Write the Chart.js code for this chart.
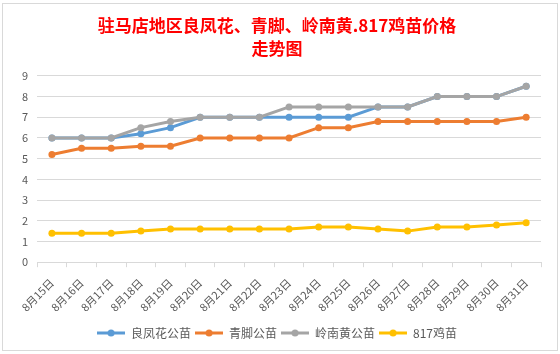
<!DOCTYPE html>
<html>
<head>
<meta charset="utf-8">
<script src="https://cdn.jsdelivr.net/npm/chart.js@4"></script>
<style>
  html, body { margin: 0; padding: 0; background: #fff; }
  #frame { position: absolute; left: 2px; top: 3px; width: 554px; height: 346px; border: 1px solid #d9d9d9; background: #fff; }
  #c { position: absolute; left: 0; top: 0; }
</style>
</head>
<body>
<div id="frame"></div>
<canvas id="c" width="560" height="354"></canvas>
<script>
const labels = ['8月15日','8月16日','8月17日','8月18日','8月19日','8月20日','8月21日','8月22日','8月23日','8月24日','8月25日','8月26日','8月27日','8月28日','8月29日','8月30日','8月31日'];
const liangFengHua = [6, 6, 6, 6.2, 6.5, 7, 7, 7, 7, 7, 7, 7.5, 7.5, 8, 8, 8, 8.5];
const qingJiao     = [5.2, 5.5, 5.5, 5.6, 5.6, 6, 6, 6, 6, 6.5, 6.5, 6.8, 6.8, 6.8, 6.8, 6.8, 7];
const lingNanHuang = [6, 6, 6, 6.5, 6.8, 7, 7, 7, 7.5, 7.5, 7.5, 7.5, 7.5, 8, 8, 8, 8.5];
const ji817        = [1.4, 1.4, 1.4, 1.5, 1.6, 1.6, 1.6, 1.6, 1.6, 1.7, 1.7, 1.6, 1.5, 1.7, 1.7, 1.8, 1.9];

const txt = '#595959';
const font = "'Microsoft YaHei', 'Noto Sans CJK SC', sans-serif";

// legend icon: short line with a dot, like Excel
function legendIcon(color) {
    const cv = document.createElement('canvas');
    cv.width = 28; cv.height = 10;
    const g = cv.getContext('2d');
    g.strokeStyle = color; g.lineWidth = 3;
    g.beginPath(); g.moveTo(0, 5); g.lineTo(28, 5); g.stroke();
    g.fillStyle = color;
    g.beginPath(); g.arc(14, 5, 3.5, 0, Math.PI * 2); g.fill();
    return cv;
}

function series(label, data, color, order) {
    return {
        label, data, order,
        borderColor: color,
        backgroundColor: color,
        borderWidth: 3,
        pointRadius: 3.5,
        pointHoverRadius: 3.5,
        pointBorderWidth: 0,
        tension: 0
    };
}

new Chart(document.getElementById('c'), {
    type: 'line',
    data: {
        labels: labels,
        datasets: [
            series('良凤花公苗', liangFengHua, '#5B9BD5', 4),
            series('青脚公苗', qingJiao, '#ED7D31', 3),
            series('岭南黄公苗', lingNanHuang, '#A5A5A5', 2),
            series('817鸡苗', ji817, '#FFC000', 1)
        ]
    },
    options: {
        responsive: false,
        animation: false,
        layout: { padding: { left: 13, right: 19, top: 6, bottom: 5 } },
        plugins: {
            title: {
                display: true,
                text: ['驻马店地区良凤花、青脚、岭南黄.817鸡苗价格', '走势图'],
                color: '#FF0000',
                font: { family: font, size: 17, weight: 'bold', lineHeight: 1.35 },
                padding: { top: 8, bottom: 16 }
            },
            legend: {
                position: 'bottom',
                labels: {
                    color: txt,
                    font: { family: font, size: 12 },
                    usePointStyle: true,
                    pointStyleWidth: 28,
                    boxHeight: 10,
                    padding: 4,
                    sort: (a, b) => a.datasetIndex - b.datasetIndex,
                    generateLabels: (chart) => {
                        const items = Chart.defaults.plugins.legend.labels.generateLabels(chart);
                        items.forEach(it => { it.pointStyle = legendIcon(it.strokeStyle); });
                        return items;
                    }
                }
            },
            tooltip: { enabled: false }
        },
        scales: {
            x: {
                offset: true,
                grid: { display: true, drawOnChartArea: false, offset: true, color: '#d9d9d9', tickLength: 5 },
                border: { color: '#d9d9d9' },
                ticks: { color: txt, font: { family: font, size: 11 }, maxRotation: 45, minRotation: 45, padding: 9, autoSkip: false }
            },
            y: {
                min: 0, max: 9,
                grid: { color: '#d9d9d9', drawTicks: false },
                border: { display: false },
                ticks: { stepSize: 1, color: txt, font: { family: font, size: 11 }, padding: 9 }
            }
        }
    }
});
</script>
</body>
</html>
